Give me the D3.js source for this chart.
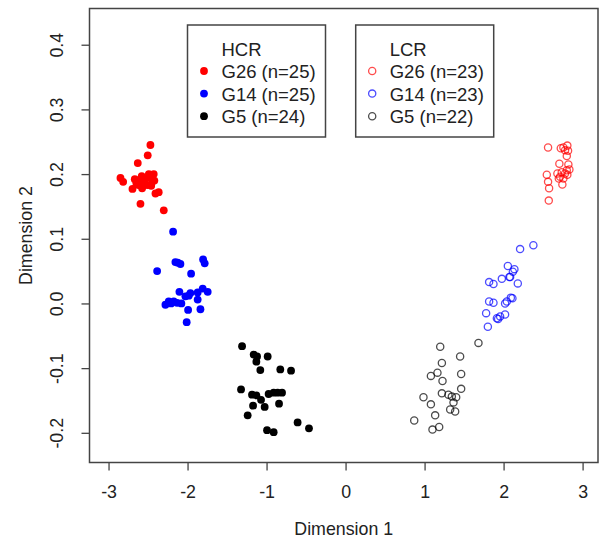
<!DOCTYPE html>
<html>
<head>
<meta charset="utf-8">
<script src="https://cdn.jsdelivr.net/npm/d3@7"></script>
<style>
  body { margin: 0; background: #fff; }
  svg { display: block; font-family: "Liberation Sans", Arial, sans-serif; }
</style>
</head>
<body>
<svg id="chart" width="600" height="539"></svg>
<script>
/*************************Data********************* */
// HCR groups (filled points)
const hcrG26 = [[-2.470,0.245],[-2.504,0.229],[-2.630,0.217],[-2.849,0.194],[-2.815,0.188],[-2.668,0.192],[-2.605,0.191],[-2.428,0.200],[-2.479,0.196],[-2.448,0.188],[-2.554,0.186],[-2.575,0.178],[-2.697,0.177],[-2.406,0.170],[-2.365,0.172],[-2.596,0.154],[-2.301,0.144],[-2.511,0.183],[-2.647,0.186],[-2.530,0.193],[-2.460,0.182],[-2.580,0.197],[-2.420,0.190],[-2.620,0.183],[-2.490,0.200]];
const hcrG14 = [[-2.183,0.111],[-2.154,0.064],[-2.090,0.061],[-2.124,0.063],[-1.803,0.068],[-1.783,0.062],[-2.385,0.050],[-1.955,0.046],[-2.103,0.018],[-1.985,0.012],[-1.964,0.016],[-1.872,0.017],[-1.808,0.023],[-1.745,0.018],[-1.872,0.006],[-2.280,-0.002],[-2.238,0.003],[-2.175,0.003],[-2.078,0.000],[-1.993,-0.010],[-1.837,-0.009],[-2.011,-0.029],[-2.208,0.000],[-2.132,0.001],[-2.027,0.011]];
const hcrG5 = [[-1.310,-0.066],[-1.163,-0.079],[-1.120,-0.082],[-1.129,-0.090],[-0.986,-0.082],[-1.079,-0.103],[-0.826,-0.102],[-0.690,-0.104],[-1.323,-0.133],[-1.184,-0.141],[-1.129,-0.142],[-1.070,-0.149],[-0.974,-0.140],[-0.910,-0.138],[-0.860,-0.138],[-0.804,-0.138],[-1.171,-0.158],[-1.024,-0.160],[-0.842,-0.155],[-1.239,-0.173],[-0.607,-0.184],[-0.463,-0.193],[-0.994,-0.196],[-0.910,-0.199]];
// LCR groups (open points)
const lcrG26 = [[2.563,0.241],[2.724,0.240],[2.757,0.241],[2.807,0.244],[2.778,0.237],[2.800,0.228],[2.706,0.216],[2.820,0.215],[2.681,0.201],[2.736,0.203],[2.833,0.207],[2.807,0.199],[2.715,0.196],[2.757,0.193],[2.547,0.199],[2.563,0.188],[2.576,0.178],[2.744,0.184],[2.572,0.159],[2.800,0.206],[2.699,0.193],[2.778,0.201],[2.816,0.236]];
const lcrG14 = [[2.377,0.090],[2.209,0.084],[2.054,0.058],[2.137,0.053],[2.117,0.049],[2.074,0.041],[1.978,0.038],[2.180,0.031],[1.817,0.033],[1.872,0.030],[2.092,0.009],[2.041,0.003],[2.019,0.000],[1.817,0.003],[1.872,0.001],[1.779,-0.015],[1.915,-0.023],[1.956,-0.020],[2.019,-0.017],[1.801,-0.036],[2.083,0.041],[2.112,0.008],[1.931,-0.024]];
const lcrG5 = [[1.682,-0.061],[1.198,-0.067],[1.450,-0.082],[1.219,-0.092],[1.163,-0.107],[1.080,-0.112],[1.463,-0.109],[1.227,-0.120],[1.463,-0.132],[1.219,-0.139],[1.302,-0.141],[1.345,-0.144],[1.400,-0.145],[0.986,-0.145],[1.080,-0.156],[1.366,-0.153],[1.324,-0.164],[1.387,-0.167],[1.134,-0.173],[0.869,-0.181],[1.100,-0.195],[1.185,-0.191]];

const xTicks = [-3, -2, -1, 0, 1, 2, 3];
const yTicks = [-0.2, -0.1, 0.0, 0.1, 0.2, 0.3, 0.4];
const hcrLabels = ["G26 (n=25)", "G14 (n=25)", "G5 (n=24)"];
const lcrLabels = ["G26 (n=23)", "G14 (n=23)", "G5 (n=22)"];

const filledColors = ["#ff0000", "#0000ff", "#000000"];
const openColors = ["rgba(255,0,0,0.7)", "rgba(0,0,255,0.7)", "rgba(0,0,0,0.7)"];

/*************************Scales********************* */
const plotLeft = 89.5, plotRight = 598, plotTop = 8.5, plotBottom = 462.5;
const svg = d3.select("svg#chart");

const scaleX = d3.scaleLinear().domain([-3.241, 3.195]).range([plotLeft, plotRight]);
const scaleY = d3.scaleLinear().domain([-0.2459, 0.456]).range([plotBottom, plotTop]);

/*************************Axes********************* */
const xAxis = d3.axisBottom(scaleX).tickValues(xTicks).tickSize(8).tickFormat((d) => String(d));
const yAxis = d3.axisLeft(scaleY).tickValues(yTicks).tickSize(8).tickFormat((d) => d.toFixed(1));

const gx = svg.append("g").attr("class", "x-axis").attr("transform", `translate(0,${plotBottom})`).call(xAxis);
const gy = svg.append("g").attr("class", "y-axis").attr("transform", `translate(${plotLeft},0)`).call(yAxis);

d3.selectAll(".domain").remove();
svg.selectAll(".tick line").attr("stroke", "#444").attr("stroke-width", 1.3);
gx.selectAll(".tick text").attr("y", 35.5).attr("dy", 0).attr("font-size", 17.8).attr("fill", "#222");
gy.selectAll(".tick text")
  .attr("x", 0).attr("dy", 0)
  .attr("text-anchor", "middle")
  .attr("transform", "translate(-26.5,0) rotate(-90)")
  .attr("font-size", 17.8).attr("fill", "#222");

// frame
svg.append("rect")
  .attr("x", plotLeft).attr("y", plotTop)
  .attr("width", plotRight - plotLeft).attr("height", plotBottom - plotTop)
  .attr("fill", "none").attr("stroke", "#444").attr("stroke-width", 1.5);

// axis titles
svg.append("text").text("Dimension 1")
  .attr("x", (plotLeft + plotRight) / 2).attr("y", 535)
  .attr("text-anchor", "middle").attr("font-size", 17.8).attr("fill", "#222");
svg.append("text").text("Dimension 2")
  .attr("transform", `translate(31.5,${(plotTop + plotBottom) / 2}) rotate(-90)`)
  .attr("text-anchor", "middle").attr("font-size", 17.8).attr("fill", "#222");

/*************************Points********************* */
const pts = svg.append("g").attr("class", "points");
[hcrG26, hcrG14, hcrG5].forEach((grp, i) => {
  pts.append("g").selectAll("circle").data(grp).join("circle")
    .attr("cx", (d) => scaleX(d[0])).attr("cy", (d) => scaleY(d[1]))
    .attr("r", 3.9).attr("fill", filledColors[i]);
});
[lcrG26, lcrG14, lcrG5].forEach((grp, i) => {
  pts.append("g").selectAll("circle").data(grp).join("circle")
    .attr("cx", (d) => scaleX(d[0])).attr("cy", (d) => scaleY(d[1]))
    .attr("r", 3.6).attr("fill", "none")
    .attr("stroke", openColors[i]).attr("stroke-width", 1.3);
});

/*************************Legends********************* */
const drawLegend = (x0, title, labels, filled) => {
  const g = svg.append("g").attr("class", "legend").attr("transform", `translate(${x0},25)`);
  g.append("rect").attr("width", 138).attr("height", 112)
    .attr("fill", "#fff").attr("stroke", "#444").attr("stroke-width", 1.5);
  g.append("text").text(title).attr("x", 34).attr("y", 31).attr("font-size", 18.5).attr("fill", "#222");
  labels.forEach((lab, i) => {
    const yy = 53 + i * 22.6;
    if (filled) {
      g.append("circle").attr("cx", 16.5).attr("cy", yy - 7).attr("r", 3.9).attr("fill", filledColors[i]);
    } else {
      g.append("circle").attr("cx", 16.5).attr("cy", yy - 7).attr("r", 3.6)
        .attr("fill", "none").attr("stroke", openColors[i]).attr("stroke-width", 1.3);
    }
    g.append("text").text(lab).attr("x", 34).attr("y", yy).attr("font-size", 18.5).attr("fill", "#222");
  });
};
drawLegend(187.5, "HCR", hcrLabels, true);
drawLegend(355.7, "LCR", lcrLabels, false);
</script>
</body>
</html>
